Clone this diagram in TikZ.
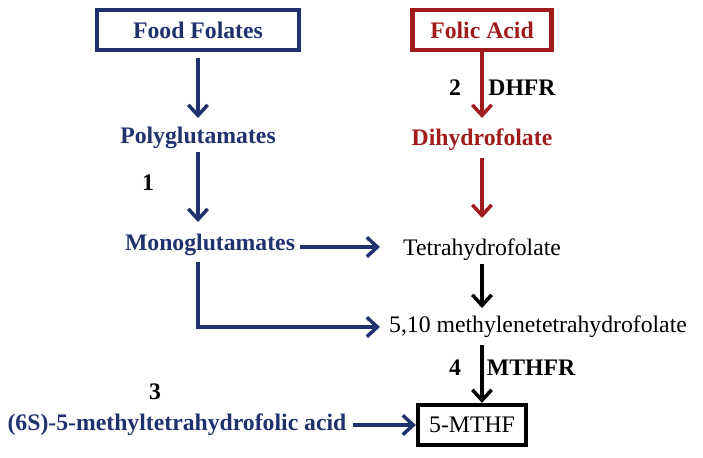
\documentclass[tikz,border=0pt]{standalone}
\usepackage{fontspec}
\setmainfont{Liberation Serif}
\usetikzlibrary{arrows.meta}
\definecolor{fblue}{RGB}{31,50,110}
\definecolor{fred}{RGB}{160,28,28}
\tikzset{
  flow/.style={line width=2pt, -{Straight Barb[length=6pt,width=11pt]}},
  lbl/.style={font=\fontsize{13.5}{16}\selectfont\bfseries},
  txt/.style={font=\fontsize{13.5}{16}\selectfont}
}
\begin{document}
\begin{tikzpicture}[x=0.02cm,y=-0.02cm]
      \useasboundingbox (0,0) rectangle (703,457);
      \node (FF) at (198,30) [draw=fblue, line width=2.4pt, minimum width=4.05cm, minimum height=0.8cm, lbl, text=fblue] {Food Folates};
      \node (FA) at (482,30) [draw=fred, line width=2.4pt, minimum width=2.78cm, minimum height=0.8cm, lbl, text=fred] {Folic Acid};
      \node (PG) at (198,138) [lbl, text=fblue] {Polyglutamates};
      \node (MG) at (210,245) [lbl, text=fblue] {Monoglutamates};
      \node (DHF) at (482,140) [lbl, text=fred] {Dihydrofolate};
      \node (THF) at (482,250) [txt] {Tetrahydrofolate};
      \node (MTHF) at (538,327) [txt] {5,10 methylenetetrahydrofolate};
      \node (M5) at (472,425) [draw, line width=2.4pt, minimum width=2.16cm, minimum height=0.8cm, txt] {5-MTHF};
      \node (SM) at (177,425) [lbl, text=fblue] {(6S)-5-methyltetrahydrofolic acid};
      \draw (148,183) node [lbl] {1};
      \draw (455,88) node [lbl] {2};
      \draw (522,88) node [lbl] {DHFR};
      \draw (155,392) node [lbl] {3};
      \draw (455,368) node [lbl] {4};
      \draw (531,368) node [lbl] {MTHFR};
      \coordinate (MR) at (300,247);
      \coordinate (TL) at (380,247);
      \coordinate (MC) at (198,262);
      \coordinate (MT) at (380,327);
      \draw[flow, fblue] (198,58) -- (198,118);
      \draw[flow, fblue] (198,152) -- (198,222);
      \draw[flow, fblue] (MR) -- (TL);
      \draw[flow, fblue] (MC) |- (MT);
      \draw[flow, fblue] (SM.east) -- (M5.west);
      \draw[flow, fred] (482,52) -- (482,118);
      \draw[flow, fred] (482,158) -- (482,218);
      \draw[flow] (482,264) -- (482,308);
      \draw[flow] (482,345) -- (M5.north -| 482,0);
    \end{tikzpicture}
\end{document}
